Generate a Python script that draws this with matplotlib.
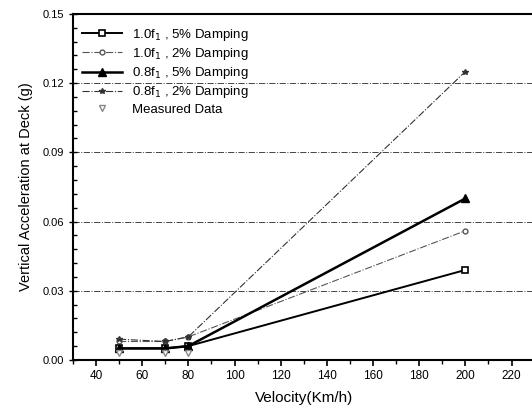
import numpy as np
import matplotlib.pyplot as plt
from matplotlib.ticker import MultipleLocator

plt.rcParams['font.family'] = ['Liberation Sans', 'DejaVu Sans']

speed = [50, 70, 80, 200]
f10_d5 = [0.005, 0.005, 0.006, 0.039]
f10_d2 = [0.008, 0.008, 0.010, 0.056]
f08_d5 = [0.005, 0.005, 0.006, 0.070]
f08_d2 = [0.009, 0.008, 0.010, 0.125]
meas_speed = [50, 70, 80]
meas_acc = [0.003, 0.003, 0.003]

fig = plt.figure(figsize=(5.32, 4.2), dpi=100)
ax = fig.add_axes([0.137, 0.143, 0.868, 0.824])

for yv in [0.03, 0.06, 0.09, 0.12]:
    ax.axhline(yv, color='#444444', lw=0.7, ls='-.', zorder=0)

ax.plot(speed, f10_d5, 'k-', lw=1.4, marker='s', ms=5, mfc='white', mew=1.2,
        label='1.0f$_1$ , 5% Damping')
ax.plot(speed, f10_d2, color='#555555', ls='-.', lw=0.8, marker='o', ms=3.5,
        mfc='white', label='1.0f$_1$ , 2% Damping')
ax.plot(speed, f08_d5, 'k-', lw=1.8, marker='^', ms=6,
        label='0.8f$_1$ , 5% Damping')
ax.plot(speed, f08_d2, color='#333333', ls='-.', lw=0.8, marker='*', ms=4,
        label='0.8f$_1$ , 2% Damping')
ax.plot(meas_speed, meas_acc, ls='none', marker='v', ms=4, color='#888888',
        mfc='white', label='Measured Data')

ax.set_xlim(30, 230)
ax.set_ylim(0, 0.15)
ax.xaxis.set_minor_locator(MultipleLocator(10))
ax.yaxis.set_major_locator(MultipleLocator(0.03))
ax.yaxis.set_minor_locator(MultipleLocator(0.006))
ax.yaxis.set_major_formatter(plt.FormatStrFormatter('%.2f'))
ax.set_xticks(np.arange(40, 221, 20))
ax.tick_params(axis='x', which='major', direction='out', length=4, width=1.2, labelsize=8.5)
ax.tick_params(axis='x', which='minor', direction='out', length=3, width=1)
ax.tick_params(axis='y', which='major', direction='inout', length=6, width=1, labelsize=8)
ax.tick_params(axis='y', which='minor', direction='in', length=3, width=1)
for s in ax.spines.values():
    s.set_linewidth(1.5)

ax.set_xlabel('Velocity(Km/h)', fontsize=11, labelpad=6)
ax.set_ylabel('Vertical Acceleration at Deck (g)', fontsize=10.5, labelpad=7)

ax.legend(loc='upper left', frameon=False, fontsize=9.5, handlelength=3,
          borderaxespad=0.3, labelspacing=0.25, bbox_to_anchor=(0.0, 0.99))

fig.savefig('out.png', dpi=100)
